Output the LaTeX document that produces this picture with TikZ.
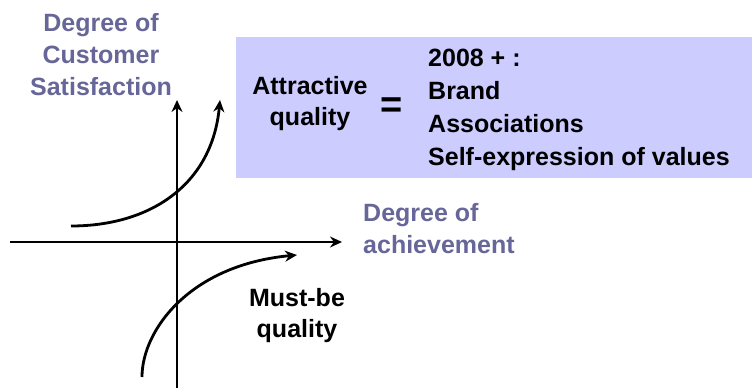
\documentclass[tikz,border=0pt]{standalone}
\usepackage{fontspec}
\setmainfont{Liberation Sans}
\usetikzlibrary{arrows.meta,positioning}
\definecolor{labelblue}{RGB}{102,102,153}
\definecolor{boxfill}{RGB}{204,204,255}

\begin{document}
\begin{tikzpicture}[
x=1pt,y=-1pt,
>={Stealth[length=12pt,width=11pt]},
axis/.style={
	->,
	line width=1.6pt
},
curve/.style={
	->,
	line width=2.8pt
},
axislabel/.style={
	text=labelblue,
	font=\bfseries\fontsize{25}{32}\selectfont,
	inner sep=0pt
},
blacklabel/.style={
	font=\bfseries\fontsize{25}{31}\selectfont,
	inner sep=0pt
}
]
\useasboundingbox (0,0) rectangle (752,388);

% shaded box
\node[fill=boxfill,anchor=north west,minimum width=516pt,minimum height=141pt,inner sep=0pt] (box) at (236,37) {};

% axes
\coordinate (xl) at (10,242);
\coordinate (xr) at (342,242);
\coordinate (yb) at (177,388);
\coordinate (yt) at (177,100);
\draw[axis] (xl) -- (xr);
\draw[axis] (yb) -- (yt);

% curves
\coordinate (a0) at (71,226);
\coordinate (a1) at (220,100);
\coordinate (m0) at (142,377);
\coordinate (m1) at (297,255);
\draw[curve] (a0) .. controls (150,226) and (212,185) .. (a1);
\draw[curve] (m0) .. controls (142,330) and (190,265) .. (m1);

% labels
\node[axislabel,align=center] (ylabel) at (101,55) {Degree of\\Customer\\Satisfaction};
\node[axislabel,align=left,anchor=west] (xlabel) at (363,229) {Degree of\\achievement};
\node[blacklabel,align=center] (attr) at (310,104) {Attractive\\quality};
\node[font=\bfseries\fontsize{38}{38}\selectfont,inner sep=0pt] (eq) at (392,108) {=};
\node[blacklabel,align=left,anchor=west,font=\bfseries\fontsize{25}{33}\selectfont] (list) at (428,110) {2008 + :\\Brand\\Associations\\Self-expression of values};
\node[blacklabel,align=center] (must) at (297,316) {Must-be\\quality};
\end{tikzpicture}
\end{document}
